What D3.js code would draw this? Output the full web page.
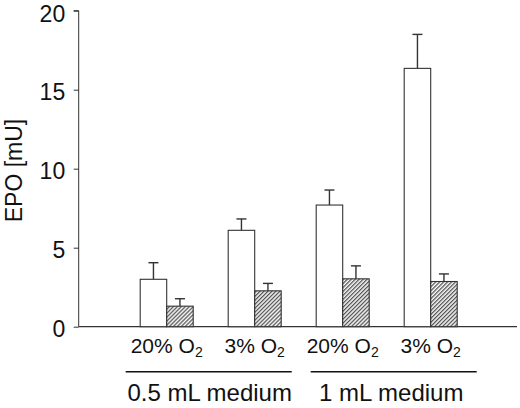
<!DOCTYPE html>
<html><head><meta charset="utf-8">
<script src="https://cdn.jsdelivr.net/npm/d3@7"></script>
<style>
body{margin:0;background:#fff;}
text{font-family:"Liberation Sans",Arial,sans-serif;fill:#111;}
</style></head>
<body><svg id="c" width="520" height="408"></svg>
<script>
const conditions = ["20% O", "3% O", "20% O", "3% O"];
const media = ["0.5 mL medium", "1 mL medium"];
const openValues = [3.0, 6.1, 7.7, 16.35];
const openErrors = [1.05, 0.72, 0.95, 2.15];
const hatchValues = [1.3, 2.27, 3.03, 2.86];
const hatchErrors = [0.47, 0.47, 0.82, 0.48];
const yTicks = [0, 5, 10, 15, 20];

const svg = d3.select("#c");
const y = d3.scaleLinear().domain([0, 20]).range([326.7, 10.7]);
const x = d3.scaleLinear().domain([0, 5]).range([78.7, 518.7]);
const bw = 26.5;

const defs = svg.append("defs");
const pat = defs.append("pattern").attr("id","hatch").attr("patternUnits","userSpaceOnUse")
  .attr("width",2.8).attr("height",2.8).attr("patternTransform","rotate(45)");
pat.append("rect").attr("width",2.8).attr("height",2.8).attr("fill","#fff");
pat.append("line").attr("x1",0.7).attr("y1",0).attr("x2",0.7).attr("y2",2.8).attr("stroke","#333").attr("stroke-width",1.1);

// y axis
const yAxis = d3.axisLeft(y).tickValues(yTicks).tickSize(5).tickPadding(8.5);
const gy = svg.append("g").attr("transform",`translate(${x(0)},0)`).call(yAxis);
gy.select(".domain").attr("stroke","#333").attr("d",`M-5,${y(20)}H0V${y(0)}`);
gy.selectAll(".tick line").attr("stroke","#333");
gy.selectAll(".tick text").style("font-size","23px").attr("dy","0.42em").attr("fill","#111").attr("font-family",null);
gy.selectAll(".tick text").filter(d=>d===20).attr("dy","0.47em");

// x axis baseline
svg.append("line").attr("x1",x(0)).attr("x2",517).attr("y1",y(0)).attr("y2",y(0)).attr("stroke","#333").attr("stroke-width",1.2);

const idx = d3.range(conditions.length);
// error bars (upward only)
function errs(vals, errsArr, offset){
  const g = svg.append("g").attr("stroke","#333").attr("stroke-width",1.4);
  idx.forEach(i=>{
    const cx = x(i+1) + offset;
    g.append("line").attr("x1",cx).attr("x2",cx).attr("y1",y(vals[i])).attr("y2",y(vals[i]+errsArr[i]));
    g.append("line").attr("x1",cx-5).attr("x2",cx+5).attr("y1",y(vals[i]+errsArr[i])).attr("y2",y(vals[i]+errsArr[i]));
  });
}
errs(openValues, openErrors, -bw/2);
errs(hatchValues, hatchErrors, bw/2);

svg.append("g").selectAll("rect").data(openValues).join("rect")
  .attr("x",(d,i)=>x(i+1)-bw).attr("width",bw)
  .attr("y",d=>y(d)).attr("height",d=>y(0)-y(d))
  .attr("fill","#fff").attr("stroke","#333").attr("stroke-width",1.1);
svg.append("g").selectAll("rect").data(hatchValues).join("rect")
  .attr("x",(d,i)=>x(i+1)).attr("width",bw)
  .attr("y",d=>y(d)).attr("height",d=>y(0)-y(d))
  .attr("fill","url(#hatch)").attr("stroke","#333").attr("stroke-width",1.1);

// condition labels
idx.forEach(i=>{
  const t = svg.append("text").attr("x",x(i+1)).attr("y",352.7).attr("text-anchor","middle").style("font-size","21px");
  t.append("tspan").text(conditions[i]);
  t.append("tspan").text("2").style("font-size","14px").attr("dy",4);
});

// medium group lines and labels
const lineShift = [-2, 7], labelShift = [-1, 4.5];
media.forEach((m,j)=>{
  const pc = (x(2*j+1)+x(2*j+2))/2;
  svg.append("line").attr("x1",pc+lineShift[j]-83).attr("x2",pc+lineShift[j]+83).attr("y1",371.7).attr("y2",371.7).attr("stroke","#111").attr("stroke-width",1.6);
  svg.append("text").attr("x",pc+labelShift[j]).attr("y",401).attr("text-anchor","middle").style("font-size","24px").text(m);
});

// y label
svg.append("text").attr("transform","translate(21.5,170.5) rotate(-90)").attr("text-anchor","middle").style("font-size","23px").text("EPO [mU]");
</script></body></html>
